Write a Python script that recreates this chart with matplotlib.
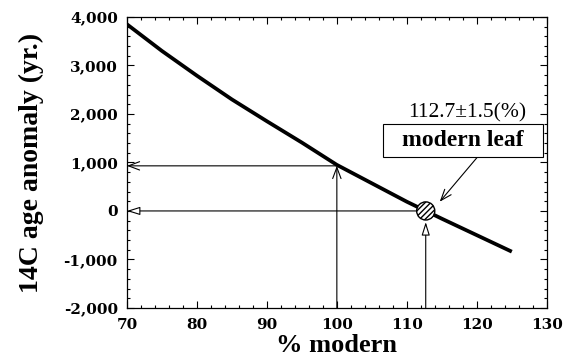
import matplotlib
matplotlib.use("Agg")
import matplotlib.pyplot as plt
from matplotlib.patches import Rectangle
from matplotlib.ticker import MultipleLocator, FuncFormatter

# Data
pct_modern = [70, 75, 80, 85, 90, 95, 100, 105, 110, 115, 120, 125]
age_anomaly = [3850, 3300, 2790, 2300, 1850, 1410, 950, 570, 190, -160, -500, -840]

leaf_pct = 112.7
leaf_age = 0
ref_pct = 100
ref_age = 930

x_ticks = [70, 80, 90, 100, 110, 120, 130]
y_ticks = [-2000, -1000, 0, 1000, 2000, 3000, 4000]

serif = ["Liberation Serif", "DejaVu Serif"]

fig = plt.figure(figsize=(5.69, 3.61), dpi=100)
ax = fig.add_axes([0.223, 0.147, 0.738, 0.806])

ax.set_xlim(70, 130)
ax.set_ylim(-2000, 4000)

ax.plot(pct_modern, age_anomaly, color="black", lw=2.7, solid_capstyle="butt", zorder=3)

# arrows: 100% -> ~930 yr
ax.annotate("", xy=(ref_pct, ref_age), xytext=(ref_pct, -2000),
            arrowprops=dict(arrowstyle="->,head_length=0.8,head_width=0.3", lw=0.8, color="black",
                            shrinkA=0, shrinkB=0))
ax.annotate("", xy=(70, ref_age), xytext=(ref_pct, ref_age),
            arrowprops=dict(arrowstyle="->,head_length=0.8,head_width=0.3", lw=0.8, color="black",
                            shrinkA=0, shrinkB=0))
# arrows: modern leaf -> 0
ax.annotate("", xy=(70, leaf_age), xytext=(leaf_pct, leaf_age),
            arrowprops=dict(arrowstyle="-|>,head_length=0.8,head_width=0.25", lw=0.8, color="black",
                            fc="white", shrinkA=0, shrinkB=0))
ax.annotate("", xy=(leaf_pct, -230), xytext=(leaf_pct, -2000),
            arrowprops=dict(arrowstyle="-|>,head_length=0.8,head_width=0.25", lw=0.8, color="black",
                            fc="white", shrinkA=0, shrinkB=0))

ax.scatter([leaf_pct], [leaf_age], s=170, facecolor="white", edgecolor="black",
           hatch="//////", linewidths=1.0, zorder=5)

ax.text(118.7, 2020, "112.7\u00b11.5(%)", ha="center", va="center",
        fontsize=15.5, family=serif)
ax.add_patch(Rectangle((106.6, 1113), 22.8, 681, fc="white", ec="black", lw=0.8, zorder=4))
ax.text(118.0, 1450, "modern leaf", ha="center", va="center", fontsize=17,
        fontweight="bold", family=serif, zorder=6)
ax.annotate("", xy=(114.7, 190), xytext=(120.1, 1113),
            arrowprops=dict(arrowstyle="->,head_length=0.8,head_width=0.3", lw=0.8, color="black",
                            shrinkA=0, shrinkB=0))

ax.set_xticks(x_ticks)
ax.set_yticks(y_ticks)
ax.xaxis.set_minor_locator(MultipleLocator(2))
ax.yaxis.set_minor_locator(MultipleLocator(200))
ax.yaxis.set_major_formatter(FuncFormatter(lambda v, p: f"{int(v):,}"))
ax.tick_params(which="both", direction="in", top=True, right=True, width=0.8)
ax.tick_params(which="major", length=5)
ax.tick_params(which="minor", length=2.5)
ax.tick_params(axis="x", which="major", pad=7)
ax.tick_params(axis="y", which="major", pad=6.5)
for lab in ax.get_xticklabels() + ax.get_yticklabels():
    lab.set_family("DejaVu Serif")
    lab.set_fontweight("bold")
    lab.set_fontsize(11)
for s in ax.spines.values():
    s.set_linewidth(0.9)

ax.set_xlabel("% modern", fontsize=19, fontweight="bold", family=serif, labelpad=2)
ax.set_ylabel("14C age anomaly (yr.)", fontsize=20, fontweight="bold", family=serif, labelpad=14)

fig.savefig("out.png", dpi=100)
